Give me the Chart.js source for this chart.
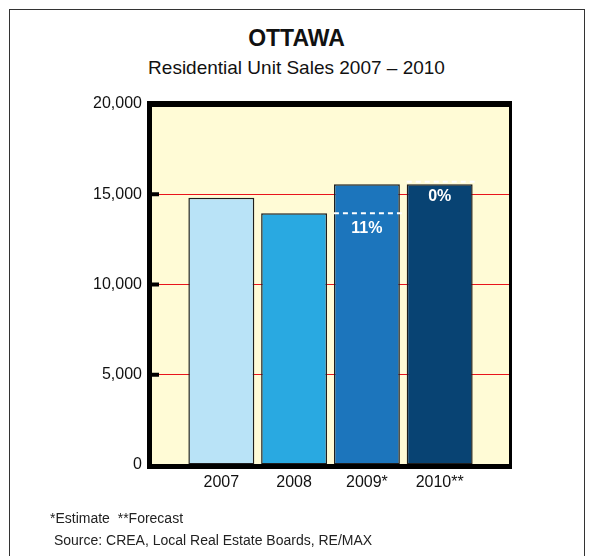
<!DOCTYPE html>
<html>
<head>
<meta charset="utf-8">
<script src="https://cdn.jsdelivr.net/npm/chart.js@4"></script>
<style>
  html, body { margin: 0; padding: 0; background: #fff; }
  body { width: 593px; height: 556px; position: relative; overflow: hidden; font-family: "Liberation Sans", Arial, sans-serif; color: #111; }
  #frame { position: absolute; left: 9px; top: 9px; width: 574px; height: 560px; border: 1.5px solid #333; border-bottom: none; }
  #title { position: absolute; left: 0; width: 593px; top: 25px; text-align: center; font-size: 23px; font-weight: bold; }
  #subtitle { position: absolute; left: 0; width: 593px; top: 57px; text-align: center; font-size: 19px; }
  #notes { position: absolute; left: 50px; top: 507px; font-size: 14px; line-height: 22px; color: #222; }
  #chart-wrap { position: absolute; left: 0; top: 0; width: 593px; height: 556px; }
</style>
</head>
<body>
<div id="frame"></div>
<div id="title">OTTAWA</div>
<div id="subtitle">Residential Unit Sales 2007 – 2010</div>
<div id="chart-wrap"><canvas id="salesChart" width="593" height="556"></canvas></div>
<div id="notes">*Estimate &nbsp;**Forecast<br>&nbsp;Source: CREA, Local Real Estate Boards, RE/MAX</div>
<script>
const years = ['2007', '2008', '2009*', '2010**'];
const sales = [14800, 13950, 15550, 15550];
const barColors = ['#b9e3f7', '#29a9e1', '#1c75bc', '#084373'];
const yTicks = [0, 5000, 10000, 15000, 20000];

// plot background + black frame + inward ticks
const framePlugin = {
    id: 'framePlugin',
    beforeDraw(chart) {
        const { ctx, chartArea: a } = chart;
        ctx.save();
        ctx.fillStyle = '#fffbd6';
        ctx.fillRect(a.left, a.top, a.right - a.left, a.bottom - a.top);
        ctx.restore();
    },
    afterDatasetsDraw(chart) {
        const { ctx, chartArea: a } = chart;
        const y = chart.scales.y;
        ctx.save();
        ctx.fillStyle = '#000';
        ctx.fillRect(a.left - 3, a.top - 3, a.right - a.left + 5, 6);
        ctx.fillRect(a.left - 3, a.top - 3, 5, a.bottom - a.top + 7);
        ctx.fillRect(a.left - 3, a.bottom - 1, a.right - a.left + 5, 5);
        ctx.fillRect(a.right - 1, a.top - 3, 3, a.bottom - a.top + 7);
        yTicks.slice(1, -1).forEach(v => {
            const py = y.getPixelForValue(v);
            ctx.fillRect(a.left, py - 2, 9, 4);
        });
        ctx.restore();
    }
};

// dashed line at previous year's level + % change label
const changePlugin = {
    id: 'changePlugin',
    afterDatasetsDraw(chart) {
        const { ctx } = chart;
        const meta = chart.getDatasetMeta(0);
        const y = chart.scales.y;
        ctx.save();
        for (let i = 2; i < sales.length; i++) {
            const bar = meta.data[i];
            const py = y.getPixelForValue(sales[i - 1]) - (sales[i] === sales[i - 1] ? 2.5 : 0);
            ctx.strokeStyle = '#fff';
            ctx.lineWidth = 2;
            ctx.setLineDash([5, 4]);
            ctx.beginPath();
            ctx.moveTo(bar.x - bar.width / 2, py);
            ctx.lineTo(bar.x + bar.width / 2 + 2, py);
            ctx.stroke();
            const pct = Math.round((sales[i] / sales[i - 1] - 1) * 100);
            ctx.setLineDash([]);
            ctx.fillStyle = '#fff';
            ctx.font = 'bold 16px "Liberation Sans", Arial, sans-serif';
            ctx.textAlign = 'center';
            ctx.textBaseline = 'top';
            ctx.fillText(pct + '%', bar.x, py + 7);
        }
        ctx.restore();
    }
};

new Chart(document.getElementById('salesChart'), {
    type: 'bar',
    data: {
        datasets: [{
            data: sales.map((v, i) => ({ x: i, y: v })),
            backgroundColor: barColors,
            borderColor: '#1e1e1e',
            borderWidth: 1.5,
            borderSkipped: false,
            barPercentage: 0.906,
            categoryPercentage: 1
        }]
    },
    options: {
        responsive: false,
        animation: false,
        layout: { padding: { top: 104, right: 83, bottom: 0, left: 0 } },
        plugins: { legend: { display: false }, tooltip: { enabled: false } },
        scales: {
            x: {
                type: 'linear',
                offset: false,
                min: -0.98,
                max: 3.966,
                afterBuildTicks: s => { s.ticks = years.map((_, i) => ({ value: i })); },
                afterFit: s => { s.height = 91; },
                grid: { display: false, drawTicks: false },
                border: { display: false },
                ticks: {
                    callback: v => years[v],
                    maxRotation: 0,
                    autoSkip: false,
                    padding: 8,
                    color: '#111',
                    font: { size: 16, family: '"Liberation Sans", Arial, sans-serif' }
                }
            },
            y: {
                min: 0,
                max: 20000,
                afterBuildTicks: s => { s.ticks = yTicks.map(v => ({ value: v })); },
                afterFit: s => { s.width = 150; },
                grid: { color: '#e8141c', lineWidth: 1, drawTicks: false },
                border: { display: false },
                ticks: {
                    callback: v => v.toLocaleString('en-US'),
                    padding: 8,
                    color: '#111',
                    font: { size: 16, family: '"Liberation Sans", Arial, sans-serif' }
                }
            }
        }
    },
    plugins: [framePlugin, changePlugin]
});
</script>
</body>
</html>
